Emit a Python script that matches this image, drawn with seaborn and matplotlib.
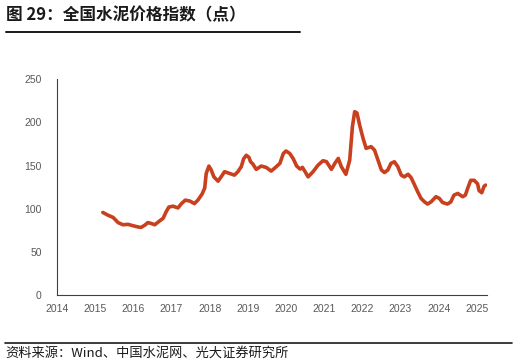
import pandas as pd
import seaborn as sns
import matplotlib.pyplot as plt

# cement price index (year as decimal, index points)
years = [2015.2, 2015.33, 2015.47, 2015.6, 2015.73, 2015.86, 2015.99, 2016.12, 2016.2, 2016.3,
         2016.38, 2016.47, 2016.56, 2016.69, 2016.78, 2016.86, 2016.93, 2017.04, 2017.17, 2017.26,
         2017.36, 2017.48, 2017.6, 2017.69, 2017.8, 2017.87, 2017.91, 2017.98, 2018.04, 2018.11,
         2018.22, 2018.3, 2018.39, 2018.52, 2018.65, 2018.74, 2018.83, 2018.89, 2018.96, 2019.03,
         2019.07, 2019.13, 2019.22, 2019.35, 2019.48, 2019.61, 2019.7, 2019.84, 2019.93, 2020.0,
         2020.1, 2020.19, 2020.28, 2020.37, 2020.43, 2020.5, 2020.58, 2020.71, 2020.84, 2020.97,
         2021.06, 2021.19, 2021.28, 2021.37, 2021.45, 2021.57, 2021.67, 2021.74, 2021.8, 2021.86,
         2021.93, 2022.02, 2022.1, 2022.23, 2022.32, 2022.41, 2022.5, 2022.58, 2022.67, 2022.75,
         2022.84, 2022.93, 2023.02, 2023.1, 2023.2, 2023.28, 2023.37, 2023.45, 2023.54, 2023.63,
         2023.71, 2023.8, 2023.93, 2024.02, 2024.1, 2024.23, 2024.32, 2024.4, 2024.5, 2024.63,
         2024.7, 2024.76, 2024.84, 2024.93, 2025.02, 2025.06, 2025.13, 2025.19, 2025.23]
index_pts = [95.8, 92.7, 90, 84, 81.5, 82, 80.4, 79, 78.4, 81,
             84, 83, 81.5, 86, 89, 96.6, 102, 103, 101, 106,
             110, 109, 106, 110, 117, 124, 141, 149.5, 145, 137,
             132, 137, 143, 141, 139, 143, 149, 158, 162, 159.6,
             154.6, 152, 145.7, 149.5, 148, 143.7, 147, 152.6, 164, 167,
             164, 158, 149.5, 146, 148, 143, 137, 143, 150.6, 155.7,
             154.6, 145.7, 152.6, 158.4, 148.8, 140, 156.5, 195, 212.5, 211,
             197, 181.6, 170, 172, 168, 156.5, 145, 142, 145, 152.6,
             154.5, 148.8, 139, 137, 140, 136, 127.5, 119.8, 112, 108,
             105.5, 108, 114, 112, 107.4, 105.5, 108, 115.8, 117.8, 114,
             115.8, 123.6, 133, 133, 129, 121, 118.6, 126, 127.5]
year_ticks = list(range(2014, 2026))
y_ticks = [0, 50, 100, 150, 200, 250]

df = pd.DataFrame({'year': years, 'index': index_pts})

sns.set_style('white')
plt.rcParams['font.family'] = ['Liberation Sans', 'Noto Sans CJK SC', 'DejaVu Sans']

fig = plt.figure(figsize=(5.16, 3.63), dpi=100)
ax = fig.add_axes([0.1105, 0.187, 0.8335, 0.5945])
sns.lineplot(data=df, x='year', y='index', color='#C8401E', linewidth=2.6, ax=ax)

ax.set_xlim(2014, 2025.27)
ax.set_ylim(0, 250)
ax.set_xticks(year_ticks)
ax.set_yticks(y_ticks)
ax.set_xlabel('')
ax.set_ylabel('')
for s in ['top', 'right']:
    ax.spines[s].set_visible(False)
for s in ['left', 'bottom']:
    ax.spines[s].set_color('#404040')
    ax.spines[s].set_linewidth(0.8)
ax.tick_params(axis='both', labelsize=7.5, labelcolor='#595959', color='#404040',
               length=3, width=0.8, direction='out')
ax.tick_params(axis='y', pad=8)

# title and source
fig.text(0.012, 0.958, '图 29：全国水泥价格指数（点）', fontsize=12, fontweight='bold',
         family=['Noto Sans CJK SC', 'DejaVu Sans'], va='center', ha='left', color='#1a1a1a')
fig.add_artist(plt.Line2D([0.012, 0.582], [0.913, 0.913], color='#1a1a1a', linewidth=1.4))
fig.add_artist(plt.Line2D([0.01, 0.992], [0.056, 0.056], color='#1a1a1a', linewidth=1.2))
fig.text(0.01, 0.028, '资料来源：Wind、中国水泥网、光大证券研究所', fontsize=9.5,
         family=['Noto Sans CJK SC', 'DejaVu Sans'], va='center', ha='left', color='#1a1a1a')

fig.savefig('out.png', dpi=100)
